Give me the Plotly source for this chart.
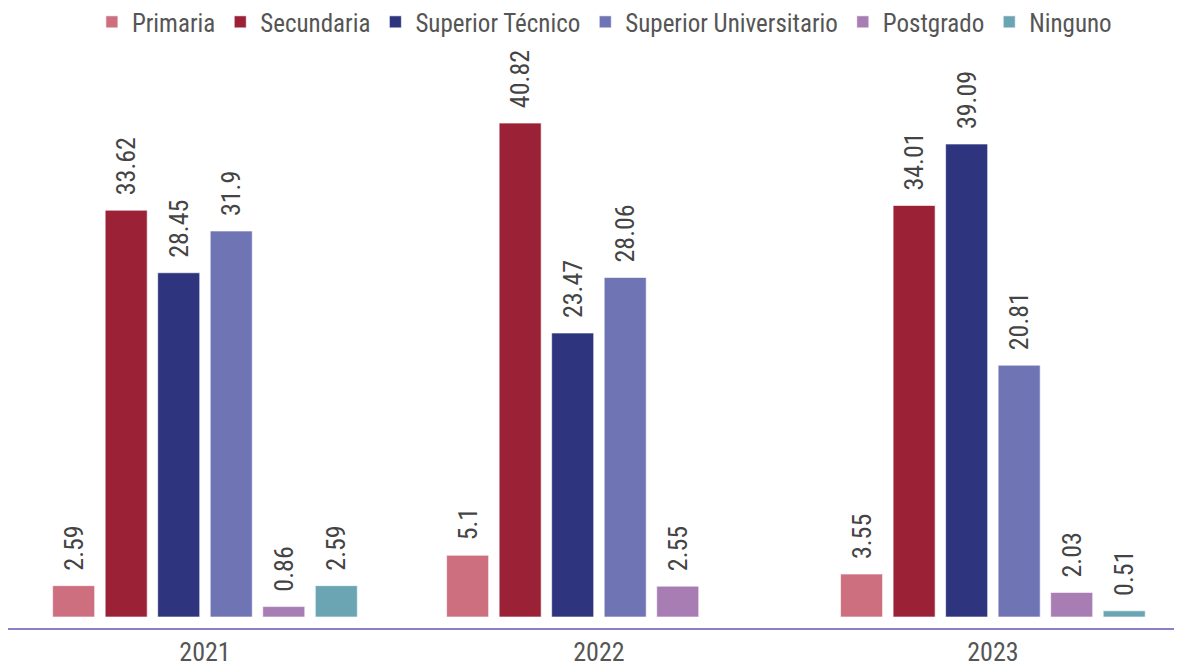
import plotly.graph_objects as go

years = ["2021", "2022", "2023"]
series_names = ["Primaria", "Secundaria", "Superior Técnico", "Superior Universitario", "Postgrado", "Ninguno"]
primaria = [2.59, 5.1, 3.55]
secundaria = [33.62, 40.82, 34.01]
sup_tecnico = [28.45, 23.47, 39.09]
sup_univ = [31.9, 28.06, 20.81]
postgrado = [0.86, 2.55, 2.03]
ninguno = [2.59, None, 0.51]
colors = ["#CD6F7F", "#9B2137", "#2E357E", "#6E74B4", "#A77DB4", "#6BA5B3"]

all_values = [primaria, secundaria, sup_tecnico, sup_univ, postgrado, ninguno]

FONT = "Liberation Sans Narrow, Arial Narrow, Roboto Condensed, Liberation Sans, Arial"
TXT = "#555555"
NB = "\u00a0\u00a0"

fig = go.Figure()
for name, vals, col in zip(series_names, all_values, colors):
    fig.add_trace(go.Bar(
        name=name, x=years, y=vals,
        marker=dict(color=col, line=dict(color="rgba(255,255,255,0.6)", width=1)),
        text=[("" if v is None else NB + f"{v:g}") for v in vals],
        textposition="outside", textangle=-90, constraintext="none",
        textfont=dict(family=FONT, size=26, color="#444444"),
        cliponaxis=False,
    ))

fig.update_layout(
    width=1174, height=660, autosize=False,
    margin=dict(l=0, r=0, t=50, b=40, autoexpand=False),
    paper_bgcolor="white", plot_bgcolor="white",
    barmode="group", bargap=0.2, bargroupgap=0.2,
    font=dict(family=FONT, color=TXT, size=25),
    showlegend=True,
    legend=dict(orientation="h", x=0.508, xanchor="center", y=1.063, yanchor="middle",
                font=dict(family=FONT, size=25, color=TXT), itemwidth=30,
                traceorder="normal", tracegroupgap=0),
    uniformtext=dict(mode=False),
)
fig.update_xaxes(showline=True, linecolor="#8B7FC7", linewidth=2, ticks="",
                 tickfont=dict(family=FONT, size=26, color=TXT), showgrid=False,
                 range=[-0.5, 2.48])
fig.update_yaxes(visible=False, range=[-0.91, 46.2], showgrid=False, zeroline=False)

fig.write_html("out.html")
